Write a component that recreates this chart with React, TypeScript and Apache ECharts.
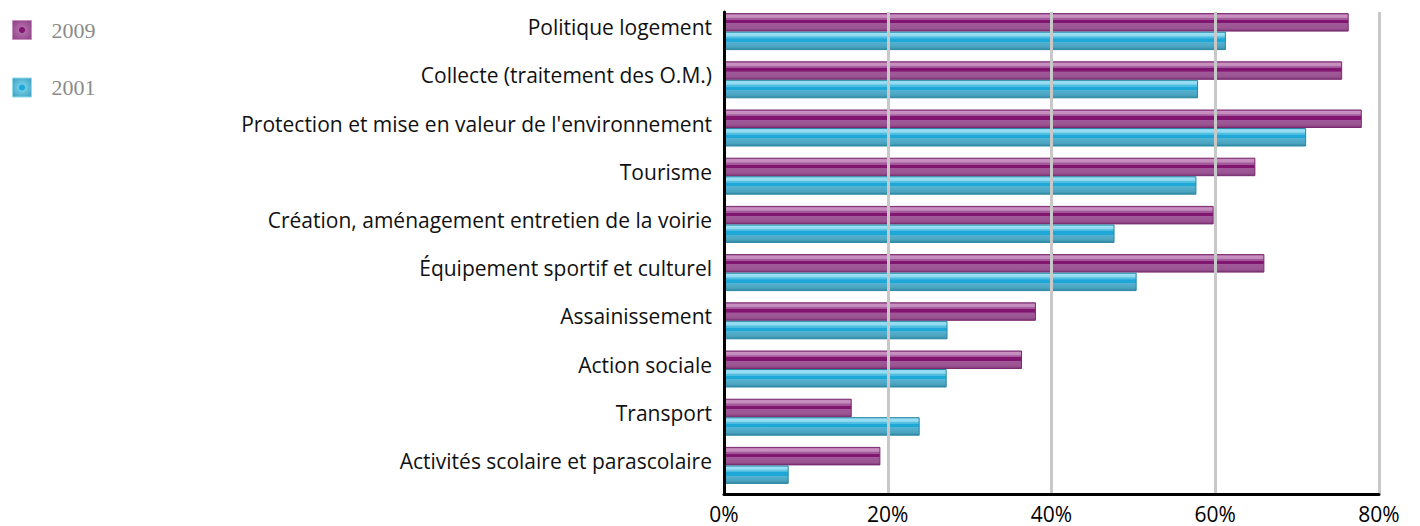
import React, { useEffect, useRef } from "react";
import * as echarts from "echarts";

const categories = [
  "Politique logement",
  "Collecte (traitement des O.M.)",
  "Protection et mise en valeur de l'environnement",
  "Tourisme",
  "Création, aménagement entretien de la voirie",
  "Équipement sportif et culturel",
  "Assainissement",
  "Action sociale",
  "Transport",
  "Activités scolaire et parascolaire",
];
const values2009 = [76.3, 75.5, 77.9, 64.9, 59.8, 66.0, 38.1, 36.4, 15.6, 19.1];
const values2001 = [61.3, 57.9, 71.1, 57.7, 47.7, 50.4, 27.3, 27.2, 23.9, 7.9];
const spacer = [0, 0, 0, 0, 0, 0, 0, 0, 0, 0];
const seriesNames = ["2009", "2001"];
const xMin = 0;
const xMax = 80;
const xInterval = 20;

const purple = new echarts.graphic.LinearGradient(0, 0, 0, 1, [
  { offset: 0, color: "#9a4f92" },
  { offset: 0.08, color: "#c990c1" },
  { offset: 0.22, color: "#c48cbc" },
  { offset: 0.28, color: "#a2599b" },
  { offset: 0.36, color: "#a2599b" },
  { offset: 0.37, color: "#82156f" },
  { offset: 0.55, color: "#82156f" },
  { offset: 0.56, color: "#a05a99" },
  { offset: 0.85, color: "#9a5492" },
  { offset: 1, color: "#7b3574" },
]);
const blue = new echarts.graphic.LinearGradient(0, 0, 0, 1, [
  { offset: 0, color: "#5ec4e2" },
  { offset: 0.08, color: "#9fe0f3" },
  { offset: 0.22, color: "#8ad8ef" },
  { offset: 0.28, color: "#4fbde0" },
  { offset: 0.36, color: "#4fbde0" },
  { offset: 0.37, color: "#1ea8d8" },
  { offset: 0.55, color: "#1ea8d8" },
  { offset: 0.56, color: "#55b3d2" },
  { offset: 0.85, color: "#4ba3bf" },
  { offset: 1, color: "#2f8aa6" },
]);
const purpleIcon = new echarts.graphic.RadialGradient(0.5, 0.5, 0.7, [
  { offset: 0, color: "#82156f" },
  { offset: 0.2, color: "#82156f" },
  { offset: 0.25, color: "#b06aa7" },
  { offset: 1, color: "#8c3d83" },
]);
const blueIcon = new echarts.graphic.RadialGradient(0.5, 0.5, 0.7, [
  { offset: 0, color: "#1ea8d8" },
  { offset: 0.2, color: "#1ea8d8" },
  { offset: 0.25, color: "#6fcbe6" },
  { offset: 1, color: "#3a9cbb" },
]);

export default function App() {
  const ref = useRef<HTMLDivElement>(null);
  useEffect(() => {
    document.body.style.margin = "0";
    document.body.style.overflow = "hidden";
    const chart = echarts.init(ref.current!, null, { renderer: "svg" });
    chart.setOption({
      animation: false,
      backgroundColor: "#ffffff",
      legend: {
        orient: "vertical",
        left: 7,
        top: 14,
        itemWidth: 19,
        itemHeight: 19,
        itemGap: 35.5,
        icon: "rect",
        data: [
          { name: seriesNames[0], itemStyle: { color: purpleIcon, borderColor: "#c78fbf", borderWidth: 1 } },
          { name: seriesNames[1], itemStyle: { color: blueIcon, borderColor: "#8fdcf0", borderWidth: 1 } },
        ],
        textStyle: {
          fontFamily: "Liberation Serif",
          fontSize: 22,
          color: "#8a8a8a",
          padding: [0, 0, 0, 15],
        },
      },
      grid: { left: 724, right: 41, top: 12, bottom: 32, containLabel: false },
      xAxis: {
        type: "value",
        min: xMin,
        max: xMax,
        interval: xInterval,
        z: 5,
        axisLine: { show: true, lineStyle: { color: "#000", width: 3 } },
        axisTick: { show: false },
        splitLine: { show: true, lineStyle: { color: "#c8c8c8", width: 3 } },
        axisLabel: {
          formatter: "{value}%",
          fontFamily: "Open Sans",
          fontSize: 21,
          lineHeight: 21,
          color: "#000",
          margin: 9,
        },
      },
      yAxis: {
        type: "category",
        data: categories,
        inverse: true,
        z: 6,
        axisLine: { show: true, lineStyle: { color: "#000", width: 3 } },
        axisTick: { show: false },
        splitLine: { show: false },
        axisLabel: {
          fontFamily: "Open Sans",
          fontSize: 21,
          color: "#111",
          margin: 12,
          verticalAlign: "bottom",
          lineHeight: 18,
        },
      },
      series: [
        {
          name: "2009",
          type: "bar",
          data: values2009,
          barWidth: 18.5,
          barGap: "0%",
          itemStyle: { color: purple, borderColor: "#7a2a70", borderWidth: 1 },
        },
        {
          name: "2001",
          type: "bar",
          data: values2001,
          barWidth: 18.5,
          barGap: "0%",
          itemStyle: { color: blue, borderColor: "#2a87a3", borderWidth: 1 },
        },
        {
          name: "spacer",
          type: "bar",
          data: spacer,
          barWidth: 9,
          barGap: "0%",
          silent: true,
          itemStyle: { opacity: 0 },
        },
      ],
    });
    return () => chart.dispose();
  }, []);
  return <div ref={ref} style={{ width: 1420, height: 526 }} />;
}
